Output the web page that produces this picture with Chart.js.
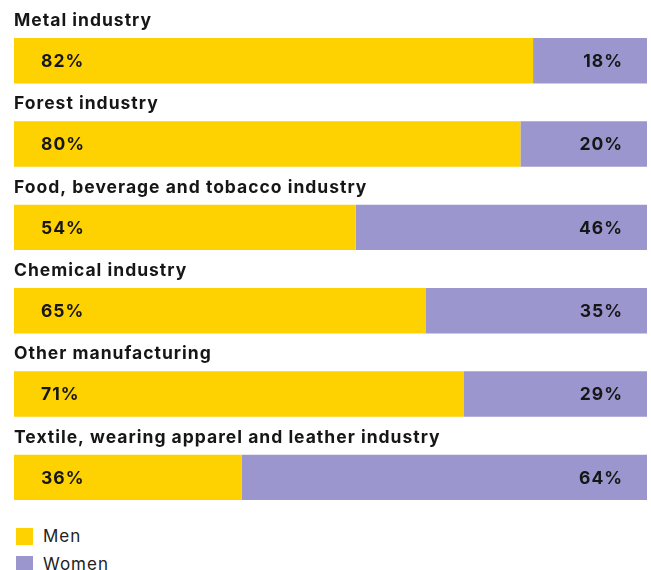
<!DOCTYPE html>
<html>
<head>
<meta charset="utf-8">
<script src="https://cdn.jsdelivr.net/npm/chart.js@4"></script>
<style>
  body { margin: 0; background: #fff; font-family: Inter, "Noto Sans", sans-serif; }
  #wrap { width: 651px; height: 520px; position: relative; }
  #legend { position: absolute; left: 16px; top: 522px; }
  .item { display: flex; align-items: center; height: 28px; font-size: 17px; color: #222; letter-spacing: 1px; }
  .swatch { width: 17px; height: 17px; margin-right: 10px; }
</style>
</head>
<body>
<div id="wrap"><canvas id="myChart"></canvas></div>
<div id="legend"></div>
<script>
const categories = [
  'Metal industry',
  'Forest industry',
  'Food, beverage and tobacco industry',
  'Chemical industry',
  'Other manufacturing',
  'Textile, wearing apparel and leather industry'
];
const men = [82, 80, 54, 65, 71, 36];
const women = [18, 20, 46, 35, 29, 64];
const seriesNames = ['Men', 'Women'];
const colors = ['#FED100', '#9B96CE'];

// category titles above bars + percentage labels inside bars
const barText = {
  id: 'barText',
  afterDatasetsDraw(chart) {
    const ctx = chart.ctx;
    const menBars = chart.getDatasetMeta(0).data;
    const womenBars = chart.getDatasetMeta(1).data;
    ctx.save();
    ctx.fillStyle = '#161616';
    ctx.font = 'bold 17.5px Inter, sans-serif';
    ctx.letterSpacing = '1px';
    menBars.forEach((bar, i) => {
      const top = bar.y - bar.height / 2;
      ctx.textAlign = 'left';
      ctx.textBaseline = 'alphabetic';
      ctx.fillText(categories[i], 14, top - 12);
      ctx.textBaseline = 'middle';
      ctx.fillText(men[i] + '%', 41, bar.y + 1);
      ctx.textAlign = 'right';
      ctx.fillText(women[i] + '%', womenBars[i].x - 24, bar.y + 1);
    });
    ctx.restore();
  }
};

function generateChart() {
  const ctx = document.getElementById('myChart');
  new Chart(ctx, {
    type: 'bar',
    data: {
      labels: categories,
      datasets: [
        { label: seriesNames[0], data: men, backgroundColor: colors[0] },
        { label: seriesNames[1], data: women, backgroundColor: colors[1] }
      ]
    },
    options: {
      indexAxis: 'y',
      responsive: true,
      maintainAspectRatio: false,
      animation: false,
      barPercentage: 0.545,
      categoryPercentage: 1,
      layout: { padding: { top: 19, bottom: 1, left: 14, right: 4 } },
      scales: {
        x: { stacked: true, min: 0, max: 100, display: false },
        y: { stacked: true, display: false }
      },
      plugins: {
        legend: { display: false },
        tooltip: { enabled: false }
      }
    },
    plugins: [barText]
  });

  const legend = document.getElementById('legend');
  seriesNames.forEach((name, i) => {
    const item = document.createElement('div');
    item.className = 'item';
    item.innerHTML = `<span class="swatch" style="background:${colors[i]}"></span>${name}`;
    legend.appendChild(item);
  });
}

generateChart();
</script>
</body>
</html>
